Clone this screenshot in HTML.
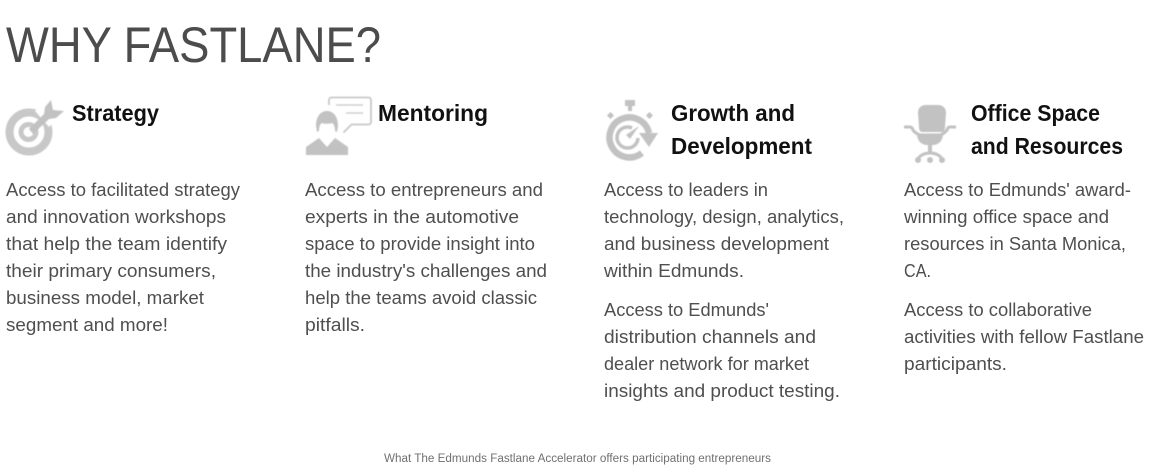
<!DOCTYPE html>
<html lang="en">
<head>
<meta charset="utf-8">
<title>Why Fastlane?</title>
<style>
html,body{margin:0;padding:0;background:#fff;width:1150px;height:472px;overflow:hidden}
svg{display:block}
text{font-family:"Liberation Sans",sans-serif}
.body{font-size:18.5px;fill:#4f4f4f}
.head{font-size:23px;font-weight:bold;fill:#111}
.ic{fill:#c2c2c2}
.icon{filter:blur(0.4px)}
</style>
</head>
<body>
<svg width="1150" height="472" viewBox="0 0 1150 472">
<text x="6" y="62" font-size="50" fill="#4c4c4c" textLength="375" lengthAdjust="spacingAndGlyphs">WHY FASTLANE?</text>

<g class="icon">
<circle cx="29" cy="132" r="19.500" fill="none" stroke="#c8c8c8" stroke-width="8"/>
<circle cx="28.500" cy="132" r="7.500" fill="none" stroke="#c8c8c8" stroke-width="5"/>
<path d="M35 111l14 16 8-8-14-16z" fill="#fff"/>
<path class="ic" d="M29 129l15-15 1-7 6-7 2 10 11 1-8 7-7 1-16 15z"/>
</g>
<text x="72" y="121" class="head" textLength="87" lengthAdjust="spacingAndGlyphs">Strategy</text>
<g class="body">
<text x="6" y="196" textLength="234" lengthAdjust="spacingAndGlyphs">Access to facilitated strategy</text>
<text x="6" y="223" textLength="220" lengthAdjust="spacingAndGlyphs">and innovation workshops</text>
<text x="6" y="250" textLength="221" lengthAdjust="spacingAndGlyphs">that help the team identify</text>
<text x="6" y="277" textLength="210" lengthAdjust="spacingAndGlyphs">their primary consumers,</text>
<text x="6" y="304" textLength="198" lengthAdjust="spacingAndGlyphs">business model, market</text>
<text x="6" y="331" textLength="162" lengthAdjust="spacingAndGlyphs">segment and more!</text>
</g>

<g class="icon">
<path d="M329 105v-5a2.500 2.500 0 0 1 2.500-2.500h37a2.500 2.500 0 0 1 2.500 2.500v22a2.500 2.500 0 0 1-2.500 2.500h-17l-8 8" fill="none" stroke="#c8c8c8" stroke-width="1.800"/>
<path d="M336 105h27M346 113h17" stroke="#cfcfcf" stroke-width="1.500" fill="none"/>
<path class="ic" d="M316 126c0-10 5-15 11-15s11 5 11 15l-1 6-2-1c0-4-1-7-3-8-3 1-7 1-10 0-2 1-3 4-3 8l-2 1z"/>
<path class="ic" d="M306 147l13-9 8 9 8-9 13 9v8h-42z"/>
</g>
<text x="378" y="121" class="head" textLength="110" lengthAdjust="spacingAndGlyphs">Mentoring</text>
<g class="body">
<text x="305" y="196" textLength="238" lengthAdjust="spacingAndGlyphs">Access to entrepreneurs and</text>
<text x="305" y="223" textLength="214" lengthAdjust="spacingAndGlyphs">experts in the automotive</text>
<text x="305" y="250" textLength="230" lengthAdjust="spacingAndGlyphs">space to provide insight into</text>
<text x="305" y="277" textLength="242" lengthAdjust="spacingAndGlyphs">the industry's challenges and</text>
<text x="305" y="304" textLength="232" lengthAdjust="spacingAndGlyphs">help the teams avoid classic</text>
<text x="305" y="331" textLength="60" lengthAdjust="spacingAndGlyphs">pitfalls.</text>
</g>

<g class="icon">
<rect class="ic" x="625" y="100" width="10" height="6"/>
<rect class="ic" x="628" y="106" width="4" height="5"/>
<rect class="ic" x="608" y="113" width="5" height="5" transform="rotate(45 610.500 115.500)"/>
<rect class="ic" x="647" y="113" width="5" height="5" transform="rotate(45 649.500 115.500)"/>
<path d="M642 153a20 20 0 1 1 7-20" fill="none" stroke="#c2c2c2" stroke-width="6.500"/>
<path class="ic" d="M639 133h19l-9 14z"/>
<path d="M632 128a10.500 10.500 0 1 0 6 10" fill="none" stroke="#c2c2c2" stroke-width="3.500"/>
<path class="ic" d="M626 135l13-9-9 13z"/>
</g>
<text x="671" y="121" class="head" textLength="124" lengthAdjust="spacingAndGlyphs">Growth and</text>
<text x="671" y="154" class="head" textLength="141" lengthAdjust="spacingAndGlyphs">Development</text>
<g class="body">
<text x="604" y="196" textLength="164" lengthAdjust="spacingAndGlyphs">Access to leaders in</text>
<text x="604" y="223" textLength="240" lengthAdjust="spacingAndGlyphs">technology, design, analytics,</text>
<text x="604" y="250" textLength="225" lengthAdjust="spacingAndGlyphs">and business development</text>
<text x="604" y="277" textLength="140" lengthAdjust="spacingAndGlyphs">within Edmunds.</text>
<text x="604" y="316" textLength="165" lengthAdjust="spacingAndGlyphs">Access to Edmunds'</text>
<text x="604" y="343" textLength="212" lengthAdjust="spacingAndGlyphs">distribution channels and</text>
<text x="604" y="370" textLength="205" lengthAdjust="spacingAndGlyphs">dealer network for market</text>
<text x="604" y="397" textLength="236" lengthAdjust="spacingAndGlyphs">insights and product testing.</text>
</g>

<g class="icon">
<path class="ic" d="M922 105h16c5 0 8 3 8 8l-1 14c0 3-1 5-3 5h-20c-2 0-3-2-3-5l-1-14c0-5 3-8 8-8z"/>
<path d="M904 127h6c2 0 2 1 3 3 2 3 4 4 7 5h20c3-1 5-2 7-5 1-2 1-3 3-3h6" fill="none" stroke="#c2c2c2" stroke-width="3"/>
<path class="ic" d="M917 134h26c0 6-4 11-10 11h-6c-6 0-10-5-10-11z"/>
<rect class="ic" x="928" y="145" width="4" height="8"/>
<path d="M918 159c2-4 7-6 12-6s10 2 12 6" fill="none" stroke="#c2c2c2" stroke-width="3"/>
<circle class="ic" cx="918" cy="160" r="3"/>
<circle class="ic" cx="930" cy="160" r="3"/>
<circle class="ic" cx="942" cy="160" r="3"/>
</g>
<text x="971" y="121" class="head" textLength="129" lengthAdjust="spacingAndGlyphs">Office Space</text>
<text x="971" y="154" class="head" textLength="152" lengthAdjust="spacingAndGlyphs">and Resources</text>
<g class="body">
<text x="904" y="196" textLength="227" lengthAdjust="spacingAndGlyphs">Access to Edmunds' award-</text>
<text x="904" y="223" textLength="205" lengthAdjust="spacingAndGlyphs">winning office space and</text>
<text x="904" y="250" textLength="222" lengthAdjust="spacingAndGlyphs">resources in Santa Monica,</text>
<text x="904" y="277" textLength="27" lengthAdjust="spacingAndGlyphs">CA.</text>
<text x="904" y="316" textLength="188" lengthAdjust="spacingAndGlyphs">Access to collaborative</text>
<text x="904" y="343" textLength="240" lengthAdjust="spacingAndGlyphs">activities with fellow Fastlane</text>
<text x="904" y="370" textLength="103" lengthAdjust="spacingAndGlyphs">participants.</text>
</g>

<text x="384" y="462" font-size="11.500" fill="#707070" textLength="387" lengthAdjust="spacingAndGlyphs">What The Edmunds Fastlane Accelerator offers participating entrepreneurs</text>
</svg>
</body>
</html>
